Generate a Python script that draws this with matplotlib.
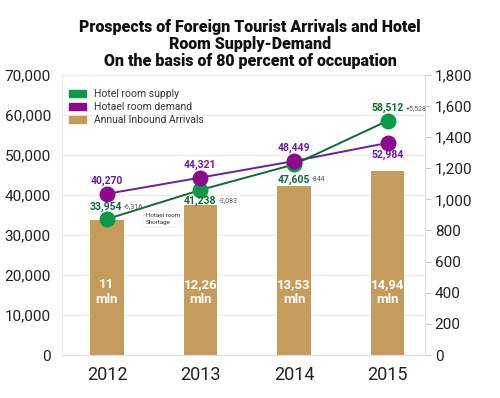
import numpy as np
import matplotlib
matplotlib.use("Agg")
import matplotlib.pyplot as plt
from matplotlib.patches import Patch

plt.rcParams['font.family'] = ['Roboto', 'DejaVu Sans']

years = ['2012', '2013', '2014', '2015']
room_supply = [33954, 41238, 47605, 58512]
room_demand = [40270, 44321, 48449, 52984]
gap_labels = ['-6,316', '-3,083', '-844', '+5,528']
arrivals_bar = [870, 965, 1085, 1180]   # height on right axis
arrivals_labels = ['11\nmln', '12,26\nmln', '13,53\nmln', '14,94\nmln']

green_dot = '#0a9a48'
green_line = '#0b6b34'
green_text = '#0b6b34'
purple_dot = '#8e0a8c'
purple_line = '#6a1fa0'
purple_text = '#6a1fa0'
tan = '#c69c5d'
grid_c = '#ececec'

fig = plt.figure(figsize=(5, 3.98), dpi=100)
ax = fig.add_axes([0.124, 0.108, 0.726, 0.704])
ax2 = ax.twinx()

x = np.arange(len(years))

# bars on right axis, lines on left axis
ax2.bar(x, arrivals_bar, width=0.36, color=tan, zorder=1)
ax2.set_ylim(0, 1800)
ax2.set_yticks(range(0, 1801, 200))
ax2.set_yticklabels([f'{v:,}' for v in range(0, 1801, 200)])

ax.set_ylim(0, 70000)
ax.set_yticks(range(0, 70001, 10000))
ax.set_yticklabels([f'{v:,}' for v in range(0, 70001, 10000)])
ax.set_xlim(-0.48, 3.4)
ax.set_xticks(x)
ax.set_xticklabels(years, fontsize=13)

ax.set_zorder(ax2.get_zorder() + 1)
ax.patch.set_visible(False)
ax2.patch.set_visible(False)

for v in range(10000, 70001, 10000):
    ax2.axhline(v / 70000 * 1800, color=grid_c, lw=1, zorder=0)

ax.plot(x, room_demand, color=purple_line, lw=1.4, zorder=3)
ax.plot(x, room_supply, color=green_line, lw=1.4, zorder=3)
ax.scatter(x, room_supply, s=110, color=green_dot, zorder=4)
ax.scatter(x, room_demand, s=110, color=purple_dot, zorder=5)

for a in (ax, ax2):
    for s in a.spines.values():
        s.set_visible(False)
ax.spines['bottom'].set_visible(True)
ax.spines['bottom'].set_color('#dddddd')
ax.spines['left'].set_visible(True)
ax.spines['left'].set_color('#eeeeee')
ax2.spines['right'].set_visible(True)
ax2.spines['right'].set_color('#dddddd')

ax.tick_params(axis='y', length=0, labelsize=11, colors='#222222', pad=8)
ax.tick_params(axis='x', length=0, labelsize=13, colors='#222222', pad=8)
ax2.tick_params(axis='y', length=4, color='#cccccc', labelsize=11,
                labelcolor='#222222', pad=3)

# bar labels
for i, lab in enumerate(arrivals_labels):
    ax2.text(x[i], 405, lab, ha='center', va='center', color='white',
             fontsize=9.5, fontweight='bold', linespacing=1.15, zorder=6)

# demand labels
dem_off = [(0, 9), (0, 9), (0, 9.5), (0, -8.5)]
for i, v in enumerate(room_demand):
    ax.annotate(f'{v:,}', (x[i], v), xytext=dem_off[i], textcoords='offset points',
                ha='center', va='center', color=purple_text, fontsize=7.5,
                fontweight='bold', zorder=7)

# supply labels with gap
sup_off = [(-1, 9), (0, -8), (0, -11), (0, 9)]
for i, v in enumerate(room_supply):
    t = ax.annotate(f'{v:,}', (x[i], v), xytext=sup_off[i], textcoords='offset points',
                    ha='center', va='center', color=green_text, fontsize=7.5,
                    fontweight='bold', zorder=7)
    fig.canvas.draw()
    bb = t.get_window_extent()
    cx = (bb.x1 + 2) / fig.dpi * 72
    cy = (bb.y0 + bb.y1) / 2 / fig.dpi * 72
    ax.annotate(gap_labels[i], (0, 0), xytext=(cx, cy), xycoords='figure points',
                textcoords='figure points', ha='left', va='center',
                color='#555555', fontsize=5, zorder=7)

ax.text(0.42, 34000, 'Hotael room\nShortage', ha='left', va='center', fontsize=4.5,
        color='#333333', linespacing=1.3, zorder=7,
        bbox=dict(boxstyle='round,pad=0.4', fc='white', ec='#eeeeee', lw=0.6))

handles = [Patch(color=green_dot, label='Hotel room supply'),
           Patch(color=purple_dot, label='Hotael room demand'),
           Patch(color=tan, label='Annual Inbound Arrivals')]
leg = ax.legend(handles=handles, loc='upper left', bbox_to_anchor=(0.0, 0.975),
                frameon=False, fontsize=7.5, handlelength=1.6, handleheight=0.7,
                labelspacing=0.3, borderaxespad=0.3)
for t in leg.get_texts():
    t.set_color('#333333')

fig.text(0.5, 0.889, 'Prospects of Foreign Tourist Arrivals and Hotel\nRoom Supply-Demand\n'
         'On the basis of 80 percent of occupation', ha='center', va='center',
         fontsize=11.5, fontweight='black', linespacing=1.1, color='#111111')

fig.savefig('out.png', dpi=100)
